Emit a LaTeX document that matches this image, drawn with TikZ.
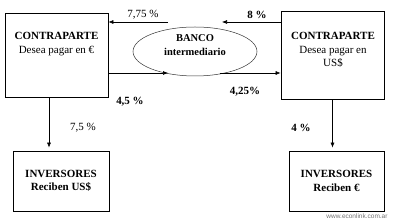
\documentclass[tikz,border=0pt]{standalone}
\usepackage{fontspec}
\setmainfont{Liberation Serif}
\newfontfamily\webfont{Liberation Sans}
\usetikzlibrary{arrows.meta, positioning, shapes.geometric}

\begin{document}
\begin{tikzpicture}[x=1pt, y=-1pt,
    box/.style={rectangle, draw=black, line width=0.7pt, inner sep=0pt},
    bank/.style={ellipse, draw=black!80, line width=0.5pt, inner sep=0pt, minimum width=124pt, minimum height=49pt},
    txt/.style={align=center, inner sep=0pt, font=\fontsize{11}{13.5}\selectfont},
    pct/.style={inner sep=0pt, font=\fontsize{11}{13}\selectfont},
    arr/.style={-{Latex[length=5pt,width=4pt]}, line width=0.6pt}
]
\useasboundingbox (0,0) rectangle (400,224);

% upper row
\node[box, minimum width=103pt, minimum height=84pt] (cpeur) at (56.5,55) {};
\node[txt] (cpeur-txt) at (56.5,44) {\textbf{CONTRAPARTE}\\Desea pagar en €};
\node[bank] (bank) at (195,51.5) {};
\node[txt, font=\fontsize{10.5}{14}\selectfont\bfseries] (bank-txt) at (195,45) {BANCO\\intermediario};
\node[box, minimum width=103pt, minimum height=88pt] (cpusd) at (332.5,55) {};
\node[txt] (cpusd-txt) at (333,50) {\textbf{CONTRAPARTE}\\Desea pagar en\\US\$};

% lower row
\node[box, minimum width=96pt, minimum height=60pt] (invusd) at (61,181) {};
\node[txt, font=\fontsize{11}{13.5}\selectfont\bfseries] (invusd-txt) at (61,181) {INVERSORES\\Reciben US\$};
\node[box, minimum width=95pt, minimum height=60pt] (inveur) at (336.5,181) {};
\node[txt, font=\fontsize{11}{13.5}\selectfont\bfseries] (inveur-txt) at (336.5,181) {INVERSORES\\Reciben €};

% free ends next to the bank
\coordinate (b-nw) at (168,22);
\coordinate (b-ne) at (222,22);
\coordinate (b-sw) at (168,73);
\coordinate (b-se) at (220,73);

\draw[arr] (b-nw) -- (cpeur.east |- b-nw);
\draw[arr] (cpusd.west |- b-ne) -- (b-ne);
\draw[arr] (cpeur.east |- b-sw) -- (b-sw);
\draw[arr] (b-se) -- (cpusd.west |- b-se);
\draw[arr, shorten >=3pt] ([xshift=-7.5pt]cpeur.south) -- ([xshift=-7.5pt]cpeur.south |- invusd.north);
\draw[arr, shorten >=3pt] (cpusd.south) -- (cpusd.south |- inveur.north);

% rates
\node[pct] (r-775) at (143,15) {7,75 \%};
\node[pct, font=\fontsize{11}{13}\selectfont\bfseries] (r-8) at (257,15) {8 \%};
\node[pct, font=\fontsize{11}{13}\selectfont\bfseries] (r-45) at (130,102) {4,5 \%};
\node[pct, font=\fontsize{11}{13}\selectfont\bfseries] (r-425) at (245,92) {4,25\%};
\node[pct] (r-75) at (83,128) {7,5 \%};
\node[pct, font=\fontsize{11}{13}\selectfont\bfseries] (r-4) at (301,128) {4 \%};

\node[inner sep=0pt, text=black!55, font=\webfont\fontsize{6.5}{7}\selectfont] (web) at (357,216) {www.econlink.com.ar};
\end{tikzpicture}
\end{document}
